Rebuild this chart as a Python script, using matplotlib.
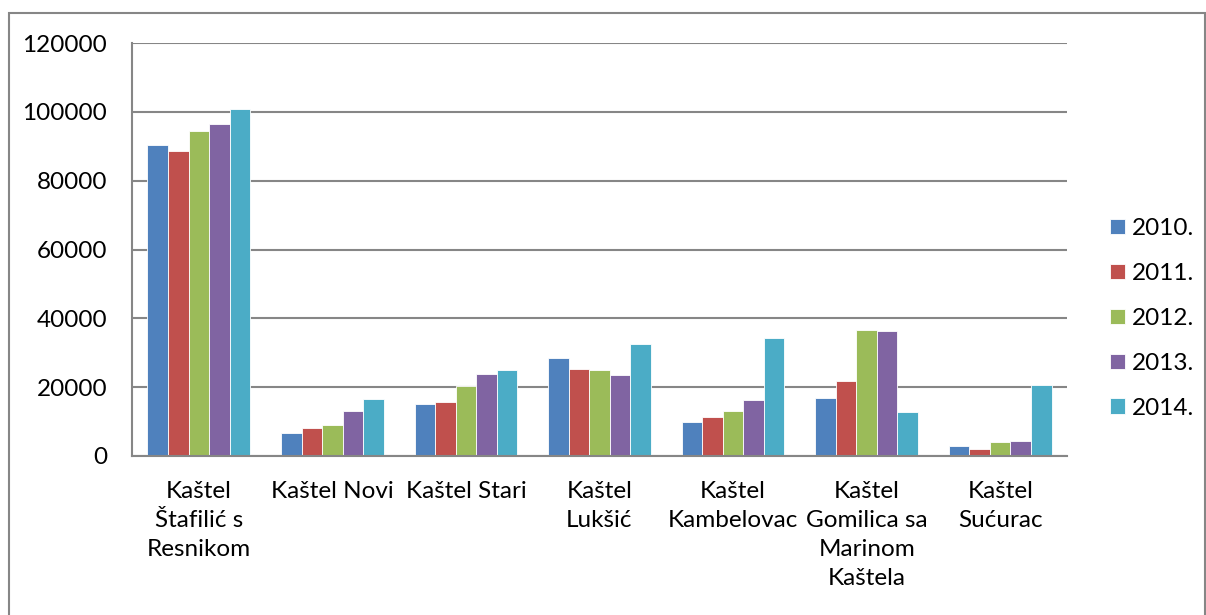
import matplotlib
matplotlib.use("Agg")
import matplotlib.pyplot as plt
import numpy as np
from matplotlib.patches import Rectangle

categories = ["Kaštel\nŠtafilić s\nResnikom", "Kaštel Novi", "Kaštel Stari",
              "Kaštel\nLukšić", "Kaštel\nKambelovac", "Kaštel\nGomilica sa\nMarinom\nKaštela",
              "Kaštel\nSućurac"]
years = ["2010.", "2011.", "2012.", "2013.", "2014."]
v2010 = [90500, 6800, 15100, 28400, 9800, 16900, 2900]
v2011 = [88500, 8200, 15700, 25400, 11200, 21800, 2100]
v2012 = [94500, 8900, 20400, 24900, 13000, 36500, 4000]
v2013 = [96600, 13000, 23700, 23400, 16200, 36300, 4400]
v2014 = [100800, 16600, 25100, 32400, 34200, 12700, 20600]
series = [v2010, v2011, v2012, v2013, v2014]
colors = ["#4F81BD", "#C0504D", "#9BBB59", "#8064A2", "#4BACC6"]
yticks = [0, 20000, 40000, 60000, 80000, 100000, 120000]

plt.rcParams['font.family'] = ['Lato', 'DejaVu Sans']

fig = plt.figure(figsize=(12.06, 6.15), dpi=100)
ax = fig.add_axes([132/1206, 1-456/615, (1067-132)/1206, (456-43)/615])

x = np.arange(len(categories))
bw = 0.154
for i, (vals, c, lab) in enumerate(zip(series, colors, years)):
    ax.bar(x + (i - 2) * bw, vals, width=bw, color=c, edgecolor="#ffffff",
           linewidth=0.6, label=lab, zorder=3)

fs = 17.5
ax.set_xlim(-0.5, len(categories) - 0.5)
ax.set_ylim(0, 120000)
ax.set_yticks(yticks)
ax.set_yticklabels([str(t) for t in yticks], fontsize=fs)
ax.set_xticks(x)
ax.set_xticklabels(categories, fontsize=fs, linespacing=1.47, va="top")
ax.tick_params(axis="both", length=0)
ax.tick_params(axis="y", pad=18)
ax.tick_params(axis="x", pad=18)
ax.grid(axis="y", color="#868686", linewidth=1.5, zorder=0)
for s in ["top", "right"]:
    ax.spines[s].set_visible(False)
for s in ["left", "bottom"]:
    ax.spines[s].set_color("#868686")
    ax.spines[s].set_linewidth(1.5)
    ax.spines[s].set_zorder(4)

leg = ax.legend(loc="center left", bbox_to_anchor=(1.046, 0.333), frameon=False,
                fontsize=fs, handlelength=0.6, handleheight=0.6, borderpad=0,
                borderaxespad=0, handletextpad=0.3, labelspacing=0.98)

# outer chart-area border
fig.patches.append(Rectangle((8.5/1206, -0.2), (1205-8.5)/1206, 0.2 + 1-13/615,
                             transform=fig.transFigure, fill=False,
                             edgecolor="#868686", linewidth=1.5))

fig.savefig("out.png", dpi=100)
